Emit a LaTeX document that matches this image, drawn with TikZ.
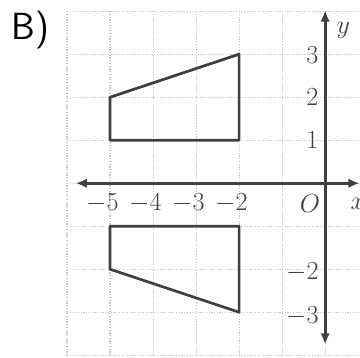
\documentclass[tikz,border=0pt]{standalone}
\usepackage{tikz}
\usetikzlibrary{arrows.meta}

\begin{document}
\begin{tikzpicture}[
gridline/.style={gray!45, densely dotted, line width=0.8pt},
axis/.style={{Latex[length=2.6mm,width=2.2mm]}-{Latex[length=2.6mm,width=2.2mm]}, line width=2pt, black!75},
figure/.style={line width=1.8pt, black!75, line join=round},
num/.style={font=\fontsize{17}{19}\selectfont, text=black!75, inner sep=0pt}
]
\useasboundingbox (-7.56,-4.05) rectangle (0.81,4.26);
\draw[gridline] (-6,-4) grid (0.9,4);
\coordinate (xl) at (-5.8,0);
\coordinate (xr) at (0.8,0);
\coordinate (yt) at (0,4.02);
\coordinate (yb) at (0,-3.75);
\draw[axis] (xl) -- (xr);
\draw[axis] (yb) -- (yt);
\draw[figure] (-5,1) -- (-2,1) -- (-2,3) -- (-5,2) -- cycle;
\draw[figure] (-5,-1) -- (-2,-1) -- (-2,-3) -- (-5,-2) -- cycle;
\node[font=\sffamily\fontsize{25}{28}\selectfont] (title) at (-6.86,3.56) {B)};
\node[num] (ylabel) at (0.42,3.56) {$y$};
\node[num] (xlabel) at (0.76,-0.47) {$x$};
\node[num] (origin) at (-0.35,-0.47) {$O$};
\node[num] (xm5) at (-5.18,-0.47) {$-5$};
\node[num] (xm4) at (-4.18,-0.47) {$-4$};
\node[num] (xm3) at (-3.18,-0.47) {$-3$};
\node[num] (xm2) at (-2.18,-0.47) {$-2$};
\node[num] (y3) at (-0.3,2.98) {$3$};
\node[num] (y2) at (-0.3,2.0) {$2$};
\node[num] (y1) at (-0.3,1.0) {$1$};
\node[num] (ym2) at (-0.53,-2.07) {$-2$};
\node[num] (ym3) at (-0.53,-3.1) {$-3$};
\end{tikzpicture}
\end{document}
